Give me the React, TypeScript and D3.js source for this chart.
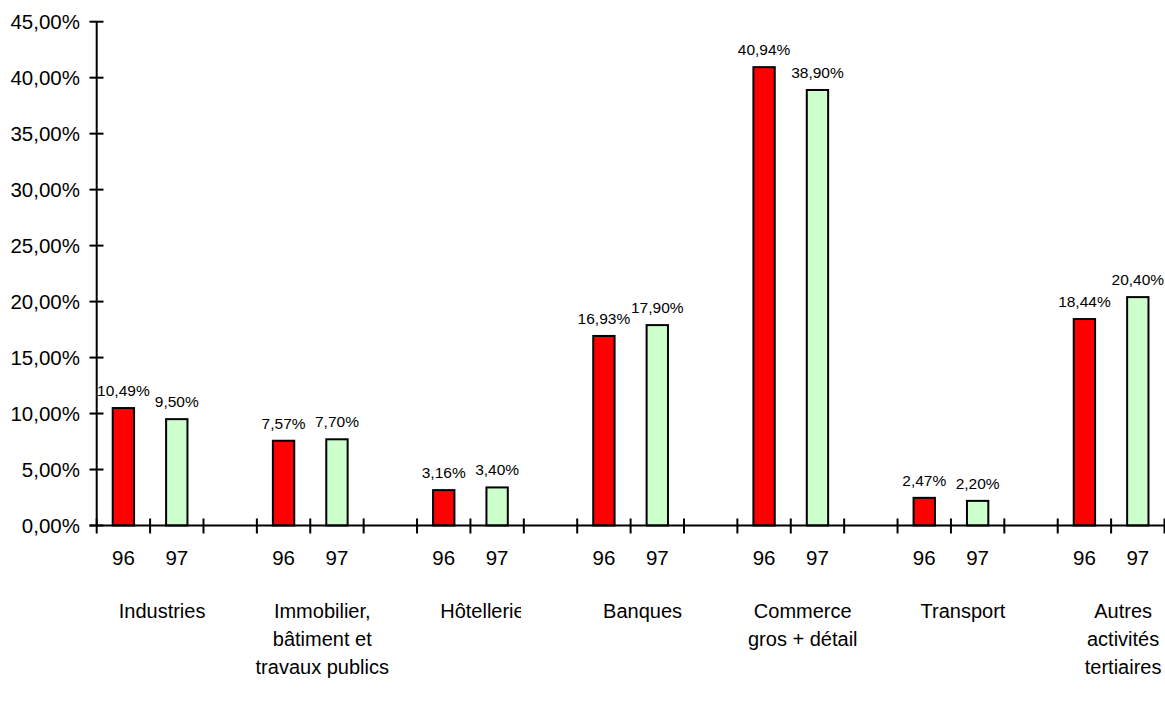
import React from "react";
import * as d3 from "d3";

const categories: string[][] = [
  ["Industries"],
  ["Immobilier,", "bâtiment et", "travaux publics"],
  ["Hôtellerie"],
  ["Banques"],
  ["Commerce", "gros + détail"],
  ["Transport"],
  ["Autres", "activités", "tertiaires"],
];
const years = ["96", "97"];
const values96 = [10.49, 7.57, 3.16, 16.93, 40.94, 2.47, 18.44];
const values97 = [9.5, 7.7, 3.4, 17.9, 38.9, 2.2, 20.4];
const yTicks = [0, 5, 10, 15, 20, 25, 30, 35, 40, 45];
const seriesColors = ["#FF0000", "#CCFFCC"];

const W = 1165;
const H = 707;
const FONT = "'Liberation Sans', Arial, sans-serif";

export default function App() {
  const nSlots = categories.length * 3 - 1;
  const x = d3.scaleLinear().domain([0, nSlots]).range([96.7, 1164.5]);
  const y = d3.scaleLinear().domain([0, 45]).range([525.5, 21.7]);
  const fmt = (v: number) => d3.format(".2f")(v).replace(".", ",") + "%";
  const series = [values96, values97];
  const slotW = x(1) - x(0);
  const barW = slotW * 0.4;

  const bars: any[] = [];
  categories.forEach((_, i) => {
    series.forEach((vals, j) => {
      const slot = i * 3 + j;
      const cx = x(slot + 0.5);
      const v = vals[i];
      bars.push({ cx, v, j, key: `${i}-${j}` });
    });
  });

  return (
    <svg
      width={W}
      height={H}
      style={{ position: "fixed", left: 0, top: 0, background: "#fff" }}
      fontFamily={FONT}
    >
      <defs>
        <clipPath id="clipHotel">
          <rect x={0} y={580} width={521} height={60} />
        </clipPath>
      </defs>
      <rect width={W} height={H} fill="#fff" />
      {bars.map((b) => (
        <rect
          key={b.key}
          x={b.cx - barW / 2}
          y={y(b.v)}
          width={barW}
          height={y(0) - y(b.v)}
          fill={seriesColors[b.j]}
          stroke="#000"
          strokeWidth={2}
        />
      ))}
      {bars.map((b) => (
        <text
          key={"l" + b.key}
          x={b.cx}
          y={y(b.v) - 12}
          textAnchor="middle"
          fontSize={15.5}
          fill="#000"
        >
          {fmt(b.v)}
        </text>
      ))}
      <line x1={x(0)} x2={x(0)} y1={y(45)} y2={y(0)} stroke="#000" strokeWidth={2} />
      {yTicks.map((t) => (
        <g key={"yt" + t}>
          <line x1={89.5} x2={103.5} y1={y(t)} y2={y(t)} stroke="#000" strokeWidth={2} />
          <text x={80} y={y(t) + 7.5} textAnchor="end" fontSize={20.5} fill="#000">
            {fmt(t)}
          </text>
        </g>
      ))}
      <line x1={89.5} x2={W} y1={y(0)} y2={y(0)} stroke="#000" strokeWidth={2} />
      {d3.range(0, nSlots + 1).map((s) => (
        <line key={"xt" + s} x1={x(s)} x2={x(s)} y1={y(0) - 7} y2={y(0) + 8} stroke="#000" strokeWidth={2} />
      ))}
      {categories.map((_, i) =>
        years.map((yr, j) => (
          <text
            key={"yr" + i + j}
            x={x(i * 3 + j + 0.5)}
            y={564.5}
            textAnchor="middle"
            fontSize={20.5}
            fill="#000"
          >
            {yr}
          </text>
        ))
      )}
      {categories.map((lines, i) => (
        <text
          key={"cat" + i}
          x={x(i * 3 + 1) + 12}
          y={617.5}
          textAnchor="middle"
          fontSize={20}
          fill="#000"
          clipPath={lines[0] === "Hôtellerie" ? "url(#clipHotel)" : undefined}
        >
          {lines.map((ln, k) => (
            <tspan key={k} x={x(i * 3 + 1) + 12} dy={k === 0 ? 0 : 28}>
              {ln}
            </tspan>
          ))}
        </text>
      ))}
    </svg>
  );
}
